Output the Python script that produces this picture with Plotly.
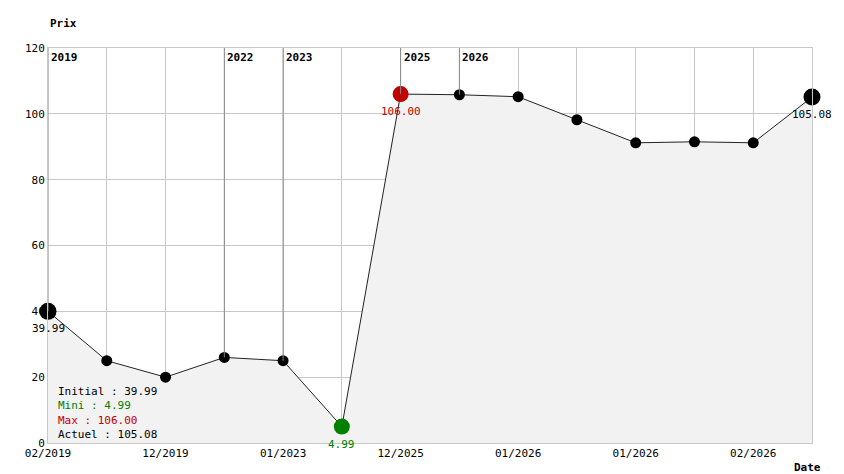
import plotly.graph_objects as go

dates = ["02/2019", "", "12/2019", "", "01/2023", "", "12/2025", "", "01/2026", "",
         "01/2026", "", "02/2026", ""]
prices = [39.99, 25.0, 20.0, 26.0, 25.0, 4.99, 106.0, 105.8, 105.2, 98.2, 91.2, 91.5, 91.2, 105.08]
year_idx = [0, 3, 4, 6, 7]
year_lbl = ["2019", "2022", "2023", "2025", "2026"]

FONT = "DejaVu Sans Mono"
x = list(range(len(prices)))
i_min = prices.index(min(prices))
i_max = prices.index(max(prices))
last = len(prices) - 1

fig = go.Figure()
fig.add_trace(go.Scatter(x=x, y=prices, mode="lines", fill="tozeroy",
                         fillcolor="#f2f2f2", line=dict(color="#222", width=1),
                         hoverinfo="skip", cliponaxis=False))
colors, sizes = [], []
for i in x:
    if i == i_min:
        colors.append("#008000"); sizes.append(16)
    elif i == i_max:
        colors.append("#c00000"); sizes.append(16)
    elif i in (0, last):
        colors.append("#000000"); sizes.append(17)
    else:
        colors.append("#000000"); sizes.append(11)
fig.add_trace(go.Scatter(x=x, y=prices, mode="markers", cliponaxis=False,
                         marker=dict(color=colors, size=sizes, opacity=1,
                                     line=dict(width=0))))

for i, lbl in zip(year_idx, year_lbl):
    fig.add_shape(type="line", x0=i, x1=i, y0=prices[i], y1=120,
                  line=dict(color="#888", width=1))
    fig.add_annotation(x=i, y=120, text="<b>%s</b>" % lbl, showarrow=False,
                       xanchor="left", yanchor="top", yshift=-1, xshift=1,
                       font=dict(size=11, color="#000"))

for i, c in [(0, "#000"), (i_min, "#008000"), (i_max, "#c00000"), (last, "#000")]:
    fig.add_annotation(x=i, y=prices[i], text="%.2f" % prices[i], showarrow=False,
                       yanchor="top", yshift=-9, font=dict(size=11, color=c))

legend = ("Initial : %.2f<br><span style='color:#008000'>Mini : %.2f</span><br>"
          "<span style='color:#c00000'>Max : %.2f</span><br>Actuel : %.2f"
          % (prices[0], min(prices), max(prices), prices[last]))
fig.add_annotation(x=0.01, y=0.0, xref="paper", yref="paper", text=legend,
                   showarrow=False, xanchor="left", yanchor="bottom", align="left",
                   font=dict(size=11, color="#000"))
fig.add_annotation(x=0, y=1, xref="paper", yref="paper", text="<b>Prix</b>",
                   showarrow=False, xanchor="left", yanchor="bottom", yshift=16,
                   font=dict(size=11))
fig.add_annotation(x=1, y=0, xref="paper", yref="paper", text="<b>Date</b>",
                   showarrow=False, xanchor="left", yanchor="top", yshift=-16,
                   xshift=-20, font=dict(size=11))

fig.update_layout(
    width=844, height=474, margin=dict(l=40, r=40, t=40, b=39, autoexpand=False),
    paper_bgcolor="white", plot_bgcolor="white", showlegend=False,
    font=dict(family=FONT, size=11, color="#000"),
    xaxis=dict(range=[0, last], tickvals=x, ticktext=dates, showgrid=True,
               gridcolor="#c8c8c8", zeroline=False, showline=True, linecolor="#c8c8c8",
               mirror=True, ticks="", automargin=False),
    yaxis=dict(range=[0, 120], dtick=20, showgrid=True, gridcolor="#c8c8c8",
               zeroline=False, showline=True, linecolor="#c8c8c8", mirror=True,
               ticks="", automargin=False),
)
fig.write_html("out.html")
